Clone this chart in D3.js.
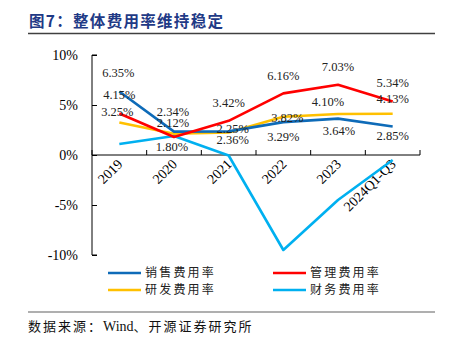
<!DOCTYPE html>
<html><head><meta charset="utf-8">
<script src="https://cdn.jsdelivr.net/npm/d3@7"></script>
<style>
html,body{margin:0;padding:0;background:#fff;}
svg{display:block;}
</style></head>
<body><svg id="c" width="456" height="345"></svg>
<script>
// ---- data ----
const categories = ["2019","2020","2021","2022","2023","2024Q1-Q3"];
const seriesNames = ["销售费用率","管理费用率","研发费用率","财务费用率"];
const salesRate   = [6.35, 2.34, 2.36, 3.29, 3.64, 2.85];
const adminRate   = [4.15, 1.80, 3.42, 6.16, 7.03, 5.34];
const rdRate      = [3.25, 2.12, 2.25, 3.82, 4.10, 4.13];
const financeRate = [1.10, 1.90, -0.05, -9.50, -4.50, -0.50];
const yTicks = [-10, -5, 0, 5, 10];

// ---- style / layout ----
const colors = ["#0E6BB8", "#FF0000", "#FFC000", "#00B0F0"];
const showLabels = [true, true, true, false];
const labelDy = [
  [-18.5, -19.5, 8.5, 15, 12.5, 9.5],
  [-18.5, 10, -18, -18, -18, -18.5],
  [-10.5, -11, -3.5, 1, -12, -15.5],
  [0,0,0,0,0,0]
];
const labelDx = [
  [-1, -1, 4, 0, 1, 0],
  [0, -2, 0, 0, 0, 0],
  [-2, -1, 4, 4, -10, 0],
  [0,0,0,0,0,0]
];
const series = [salesRate, adminRate, rdRate, financeRate];

const svg = d3.select("#c");
const serif = "'Liberation Serif','Times New Roman',serif";
const cjk = "'Noto Sans CJK SC','Noto Sans CJK',sans-serif";

// title
svg.append("text").attr("x", 29).attr("y", 27)
  .attr("font-family", cjk).attr("font-weight", "bold").attr("font-size", 15.5)
  .attr("fill", "#1F3A86").attr("letter-spacing", 1.3)
  .text("图7：整体费用率维持稳定");
svg.append("line").attr("x1", 28).attr("x2", 435).attr("y1", 33.5).attr("y2", 33.5)
  .attr("stroke", "#404040").attr("stroke-width", 1.5);

const x = d3.scaleBand().domain(categories).range([92, 420]);
const y = d3.scaleLinear().domain([-10, 10]).range([255, 55]);

// y axis
const yAxis = svg.append("g").attr("transform", "translate(92,0)")
  .call(d3.axisRight(y).tickValues(yTicks).tickSize(5).tickFormat(d => d + "%"));
yAxis.select(".domain").attr("stroke", "#000").attr("d", "M5,55H0V255H5").attr("stroke-width", 1);
yAxis.selectAll(".tick line").attr("stroke", "#000");
yAxis.selectAll(".tick text").attr("x", -14).attr("text-anchor", "end")
  .attr("font-family", serif).attr("font-size", 14).attr("fill", "#000");

// x axis at 0
const xAxis = svg.append("g").attr("transform", `translate(0,${y(0)})`)
  .call(d3.axisBottom(x).tickSize(0));
xAxis.select(".domain").attr("stroke", "#000").attr("d", "M92,0H420");
xAxis.selectAll(".tick text")
  .attr("font-family", serif).attr("font-size", 14).attr("fill", "#000")
  .attr("text-anchor", "end").attr("dy", 0).attr("y", 0)
  .attr("transform", "translate(4,10) rotate(-45)");
// category boundary ticks pointing up
const bounds = categories.map(c => x(c)).concat([x.range()[1]]);
svg.append("g").selectAll("line").data(bounds).join("line")
  .attr("x1", d => d).attr("x2", d => d)
  .attr("y1", y(0) - 5).attr("y2", y(0))
  .attr("stroke", "#000");

// lines
const line = d3.line().x((d, i) => x(categories[i]) + x.bandwidth() / 2).y(d => y(d));
const drawOrder = [3, 2, 0, 1];
drawOrder.forEach(s => {
  svg.append("path").datum(series[s]).attr("d", line)
    .attr("fill", "none").attr("stroke", colors[s]).attr("stroke-width", 2.6)
    .attr("stroke-linejoin", "round");
});

// labels
series.forEach((vals, s) => {
  if (!showLabels[s]) return;
  svg.append("g").selectAll("text").data(vals).join("text")
    .attr("x", (d, i) => x(categories[i]) + x.bandwidth() / 2 + labelDx[s][i])
    .attr("y", (d, i) => y(d) + labelDy[s][i])
    .attr("dy", "0.35em")
    .attr("text-anchor", "middle")
    .attr("font-family", serif).attr("font-size", 12.5).attr("fill", "#222")
    .text(d => d.toFixed(2) + "%");
});

// legend
const legendPos = [[108, 273], [273, 273], [108, 290], [273, 290]];
seriesNames.forEach((n, s) => {
  const [lx, ly] = legendPos[s];
  svg.append("line").attr("x1", lx).attr("x2", lx + 33).attr("y1", ly).attr("y2", ly)
    .attr("stroke", colors[s]).attr("stroke-width", 2.6);
  svg.append("text").attr("x", lx + 37).attr("y", ly).attr("dy", "0.36em")
    .attr("font-family", cjk).attr("font-size", 12).attr("letter-spacing", 2.2)
    .attr("fill", "#222").text(n);
});

// bottom rule + source
svg.append("line").attr("x1", 28).attr("x2", 435).attr("y1", 312).attr("y2", 312)
  .attr("stroke", "#606060").attr("stroke-width", 1.2);
const src = svg.append("text").attr("x", 28).attr("y", 331)
  .attr("font-family", cjk).attr("font-size", 13).attr("fill", "#111");
src.append("tspan").attr("letter-spacing", 2).text("数据来源：");
src.append("tspan").attr("font-family", serif).attr("font-size", 14).text("Wind");
src.append("tspan").attr("letter-spacing", 2).text("、开源证券研究所");
</script>
</body></html>
